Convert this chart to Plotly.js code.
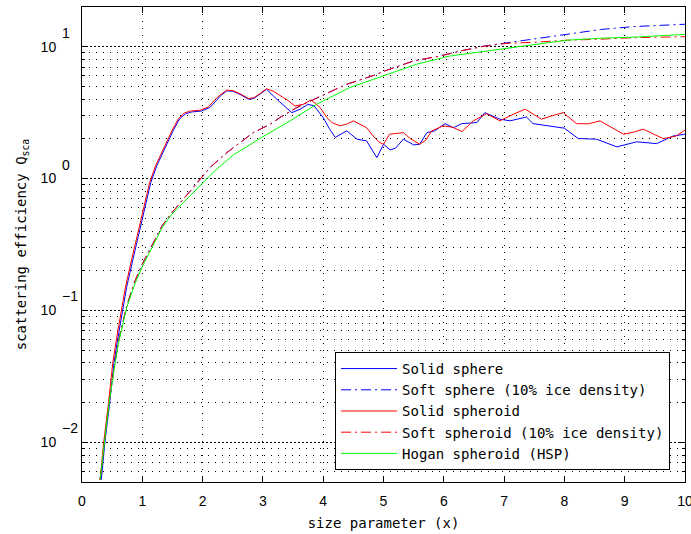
<!DOCTYPE html>
<html><head><meta charset="utf-8">
<script src="https://cdn.plot.ly/plotly-3.0.1.min.js"></script>
<style>html,body{margin:0;padding:0;background:#fff}#chart{width:691px;height:534px}</style>
</head><body><div id="chart"></div>
<script>
// ---- data ----
const solidSphereX = [0.32,0.38,0.46,0.53,0.59,0.65,0.74,0.85,0.96,1.05,1.14,1.24,1.35,1.51,1.62,1.72,1.82,1.98,2.12,2.22,2.30,2.40,2.50,2.62,2.76,2.85,2.95,3.06,3.23,3.39,3.48,3.62,3.75,3.85,4.00,4.10,4.20,4.39,4.56,4.72,4.89,5.00,5.11,5.20,5.33,5.50,5.60,5.72,5.85,6.02,6.16,6.30,6.55,6.68,6.93,7.10,7.37,7.48,7.81,8.00,8.23,8.53,8.87,9.20,9.53,9.80,10.0];
const solidSphereY = [0.0052,0.01,0.02,0.04,0.06,0.085,0.15,0.25,0.42,0.62,0.93,1.25,1.62,2.3,2.85,3.1,3.2,3.25,3.45,3.9,4.25,4.62,4.6,4.35,4.0,4.05,4.35,4.75,4.0,3.45,3.16,3.36,3.66,3.55,2.9,2.4,2.05,2.3,1.99,1.93,1.44,1.82,1.65,1.7,1.99,1.8,1.82,2.23,2.3,2.61,2.43,2.61,2.66,3.16,2.82,2.74,2.93,2.61,2.47,2.41,2.01,1.99,1.74,1.9,1.84,2.1,2.17];

const softSphereX = [0.30,0.37,0.45,0.53,0.60,0.74,0.88,1.00,1.16,1.33,1.49,1.66,1.88,2.12,2.40,2.67,2.84,3.12,3.28,3.56,3.73,4.00,4.39,4.56,4.89,5.00,5.50,5.94,6.27,6.66,7.04,7.48,8.04,8.60,9.14,10.0];
const softSphereY = [0.0052,0.01,0.02,0.036,0.057,0.108,0.168,0.225,0.315,0.44,0.55,0.68,0.9,1.21,1.57,1.93,2.23,2.58,2.9,3.45,3.77,4.3,5.19,5.5,6.17,6.5,7.8,8.5,9.27,10.1,10.7,11.3,12.4,13.5,14.2,14.8];

const solidSpheroidX = [0.30,0.36,0.44,0.51,0.57,0.63,0.72,0.83,0.94,1.03,1.12,1.22,1.33,1.49,1.60,1.70,1.80,1.96,2.10,2.20,2.29,2.40,2.50,2.62,2.76,2.85,2.95,3.06,3.17,3.28,3.42,3.53,3.67,3.80,3.95,4.06,4.15,4.28,4.40,4.50,4.60,4.72,4.83,4.92,5.00,5.10,5.22,5.33,5.45,5.60,5.70,5.80,5.99,6.15,6.30,6.49,6.71,6.93,7.15,7.35,7.50,7.62,7.80,7.98,8.20,8.40,8.59,8.80,8.98,9.15,9.31,9.50,9.64,9.85,10.0];
const solidSpheroidY = [0.0052,0.01,0.02,0.04,0.06,0.085,0.15,0.25,0.42,0.62,0.93,1.25,1.62,2.3,2.85,3.15,3.25,3.3,3.5,3.95,4.3,4.68,4.65,4.4,4.05,4.1,4.4,4.8,4.6,4.3,3.9,3.55,3.66,3.95,3.45,2.9,2.65,2.51,2.6,2.74,2.6,2.43,2.1,1.9,1.82,2.17,2.2,2.23,2.0,1.82,1.95,2.3,2.51,2.45,2.27,2.74,3.1,2.74,3.07,3.36,3.05,2.82,3.0,3.16,2.61,2.6,2.74,2.4,2.17,2.25,2.37,2.15,2.01,2.1,2.33];

const softSpheroidX = [0.30,0.37,0.45,0.53,0.60,0.74,0.88,1.00,1.16,1.33,1.49,1.66,1.88,2.12,2.40,2.67,2.84,3.12,3.28,3.56,3.73,4.00,4.39,4.56,4.89,5.00,5.50,5.94,6.27,6.66,7.04,7.48,8.04,8.60,9.14,10.0];
const softSpheroidY = [0.0052,0.01,0.02,0.036,0.057,0.108,0.168,0.225,0.315,0.44,0.55,0.68,0.9,1.21,1.57,1.93,2.23,2.58,2.9,3.45,3.77,4.3,5.19,5.5,6.17,6.5,7.8,8.5,9.27,10.05,10.6,10.8,11.2,11.4,11.7,11.9];

const hoganX = [0.30,0.37,0.45,0.53,0.60,0.74,0.88,1.00,1.16,1.33,1.49,1.71,1.96,2.18,2.50,2.98,3.45,3.89,4.44,5.00,5.55,6.10,6.93,7.48,8.04,8.60,9.14,10.0];
const hoganY = [0.0052,0.01,0.02,0.035,0.055,0.105,0.16,0.215,0.3,0.425,0.537,0.678,0.88,1.12,1.5,2.05,2.74,3.66,4.9,6.0,7.36,8.5,9.55,10.4,11.2,11.6,11.8,12.4];

const seriesNames = ['Solid sphere','Soft sphere (10% ice density)','Solid spheroid','Soft spheroid (10% ice density)','Hogan spheroid (HSP)'];
const xTickVals = [0,1,2,3,4,5,6,7,8,9,10];
const yTickVals = [0.01,0.1,1,10];
const yTickBase = ['10','10','10','10'];
const yTickExp = ['\u22122','\u22121','0','1'];

// ---- chart ----
const FONT_MONO = 'DejaVu Sans Mono, monospace';
const FONT_SANS = 'Liberation Sans, Arial, sans-serif';
const DASHDOT = '10px,4px,2px,4px';

const yMinorVals = [];
[0.001,0.01,0.1,1].forEach(d => { for (let m = 2; m <= 9; m++) yMinorVals.push(+(d*m).toPrecision(3)); });

function tr(x, y, name, color, dash) {
  return {x: x, y: y, name: name, type: 'scatter', mode: 'lines',
          line: {color: color, width: 1, dash: dash}};
}
const traces = [
  tr(solidSphereX, solidSphereY, seriesNames[0], '#0000ff', 'solid'),
  tr(softSphereX, softSphereY, seriesNames[1], '#0000ff', DASHDOT),
  tr(solidSpheroidX, solidSpheroidY, seriesNames[2], '#ff0000', 'solid'),
  tr(softSpheroidX, softSpheroidY, seriesNames[3], '#ff0000', DASHDOT),
  tr(hoganX, hoganY, seriesNames[4], '#00ff00', 'solid')
];

// exponents drawn next to each "10" tick label, MATLAB style
const expAnnotations = yTickVals.map((v, i) => ({
  xref: 'paper', yref: 'y', x: -0.0365, y: Math.log10(v),
  xanchor: 'left', yanchor: 'middle', yshift: 14,
  text: yTickExp[i], showarrow: false,
  font: {family: FONT_SANS, size: 14, color: '#000'}
}));

const layout = {
  width: 691, height: 534,
  margin: {l: 82, r: 6, t: 7, b: 52, pad: 0},
  paper_bgcolor: '#fff', plot_bgcolor: '#fff',
  showlegend: true,
  legend: {x: 0.4196, y: 0.2737, xanchor: 'left', yanchor: 'top',
           bgcolor: '#fff', bordercolor: '#000', borderwidth: 1,
           font: {family: FONT_MONO, size: 14, color: '#000'},
           itemwidth: 56, tracegroupgap: 0},
  annotations: expAnnotations,
  xaxis: {
    range: [0, 10], tickmode: 'array', tickvals: xTickVals,
    ticks: 'inside', ticklen: 6, tickcolor: '#000', mirror: 'ticks',
    showline: true, linecolor: '#000', linewidth: 1, zeroline: false,
    showgrid: true, gridcolor: '#000', gridwidth: 1, griddash: '1px,6px',
    tickfont: {family: FONT_SANS, size: 14, color: '#000'},
    ticklabelstandoff: 6, ticklabeloverflow: 'allow',
    title: {text: 'size parameter (x)', font: {family: FONT_MONO, size: 14, color: '#000'}, standoff: 10}
  },
  yaxis: {
    type: 'log', range: [Math.log10(0.005), Math.log10(20)],
    tickmode: 'array', tickvals: yTickVals, ticktext: yTickBase,
    ticks: 'inside', ticklen: 6, tickcolor: '#000', mirror: 'ticks',
    showline: true, linecolor: '#000', linewidth: 1, zeroline: false,
    showgrid: true, gridcolor: '#000', gridwidth: 1, griddash: '2px,2px',
    minor: {tickmode: 'array', tickvals: yMinorVals, ticks: 'inside', ticklen: 3, tickcolor: '#000',
            showgrid: true, gridcolor: '#000', gridwidth: 1, griddash: '1px,6px'},
    tickfont: {family: FONT_SANS, size: 14, color: '#000'},
    ticklabelstandoff: 22, ticklabeloverflow: 'allow',
    title: {text: 'scattering efficiency Q<sub>sca</sub>', font: {family: FONT_MONO, size: 14, color: '#000'}, standoff: 10}
  }
};
Plotly.newPlot('chart', traces, layout, {staticPlot: true, displayModeBar: false});
</script>
</body></html>
